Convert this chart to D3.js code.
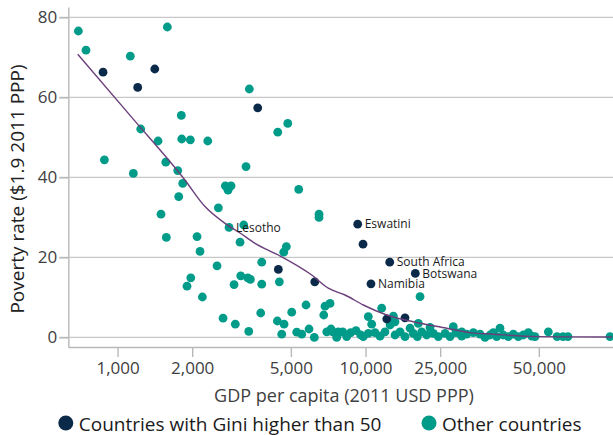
<!DOCTYPE html>
<html>
<head>
<meta charset="utf-8">
<script src="https://cdn.jsdelivr.net/npm/d3@7"></script>
<style>
  html, body { margin: 0; padding: 0; background: #fff; }
  svg { display: block; font-family: "Open Sans", sans-serif; }
</style>
</head>
<body>
<svg id="chart" width="613" height="435"></svg>
<script>
// Poverty rate vs GDP per capita — scatter on a log x axis with a smoothed trend.

// Countries with Gini higher than 50
const giniGdp = [874, 1413, 1206, 3675, 9300, 9770, 12520, 15880, 10520, 4451, 6241, 12180, 14430];
const giniPoverty = [66.3, 67.1, 62.5, 57.4, 28.3, 23.3, 18.8, 16.0, 13.4, 17.0, 13.9, 4.6, 4.9];

// Other countries
const otherGdp = [
  695, 746, 1588, 1126, 3400, 1808, 1240, 1457, 1815, 1966, 2311, 885, 1565, 1749, 1158, 3297,
  4857, 4426, 5378, 6494, 6494, 1832, 1765, 1497, 1573, 2092, 2151, 2721, 2869, 2790, 2550, 2816,
  3228, 3119, 2519, 1974, 1906, 2198, 3139, 3350, 3432, 2950, 2664, 2985, 3381, 4794, 4680, 3815,
  3815, 4492, 5755, 6867, 7193, 6785, 5040, 3779, 4410, 4693, 4593, 5280, 5530, 5918, 6216, 6976,
  7260, 7653, 7767, 16590, 11620, 10260, 10590, 12950, 13150, 12560, 16330, 18200, 22590, 34850,
  54600, 24430, 59200, 62600, 65500, 96800,
  7375, 7697, 8093, 8400, 8716, 9156, 9564, 9797, 10260, 10920, 11440, 11980, 13150, 13780, 14430,
  15120, 15580, 16180, 16850, 17650, 18770, 19660, 20930, 21920, 23170, 24430, 25590, 27210, 28950,
  30330, 31770, 32760, 33810, 35940, 37650, 39450, 41320, 43280, 45350, 46800, 48260
];
const otherPoverty = [
  76.6, 71.8, 77.6, 70.3, 62.1, 55.5, 52.1, 49.1, 49.6, 49.4, 49.1, 44.4, 43.8, 41.7, 41.0, 42.7,
  53.5, 51.3, 37.0, 30.8, 30.0, 38.5, 35.2, 30.8, 25.0, 25.2, 21.5, 37.9, 37.9, 36.8, 32.4, 27.5,
  28.1, 23.8, 17.9, 14.9, 12.8, 10.1, 15.4, 14.9, 14.5, 13.2, 4.8, 3.3, 1.5, 22.7, 21.3, 18.8,
  13.3, 13.9, 8.1, 7.8, 8.5, 5.6, 6.3, 6.1, 4.1, 3.3, 0.8, 1.3, 0.8, 2.1, 0.0, 1.4,
  2.1, 0.0, 1.4, 10.2, 7.3, 5.2, 3.3, 5.3, 3.9, 3.1, 3.5, 2.5, 2.7, 2.3,
  1.4, 1.4, 0.2, 0.2, 0.2, 0.2,
  1.4, 0.6, 1.4, 0.2, 1.2, 1.7, 0.6, 0.2, 1.0, 1.2, 0.3, 1.4, 0.6, 1.4, 0.2,
  2.3, 1.0, 0.2, 1.4, 0.6, 1.0, 0.2, 1.0, 0.2, 1.2, 0.3, 0.8, 1.2, 0.8,
  0.0, 0.6, 1.2, 0.2, 0.6, 0.2, 0.8, 0.2, 0.6, 1.2, 0.3, 0.2
];

// Smoothed trend
const trendGdp = [691, 1123, 1872, 2253, 2713, 3119, 3585, 4451, 6069, 7079, 8270, 9797, 12180, 15580, 21260, 26390, 32670, 49150, 98600];
const trendPoverty = [70.8, 55.5, 39.3, 32.7, 28.5, 26.1, 23.5, 20.6, 15.6, 12.3, 10.6, 8.1, 5.6, 3.9, 2.3, 1.2, 0.8, 0.2, 0.1];

// Labelled countries
const labelNames = ["Lesotho", "Eswatini", "South Africa", "Botswana", "Namibia"];
const labelGdp = [2816, 9300, 12520, 15880, 10520];
const labelPoverty = [27.5, 28.3, 18.8, 16.0, 13.4];

const yTickValues = [0, 20, 40, 60, 80];
const xTickValues = [1000, 2000, 5000, 10000, 20000, 50000];
const xTickLabels = ["1,000", "2,000", "5,000", "10,000", "25,000", "50,000"];

const legendLabels = ["Countries with Gini higher than 50", "Other countries"];

(() => {
  "use strict";

  const COLOR_GINI = "#0B2A4A";
  const COLOR_OTHER = "#009B89";
  const COLOR_TREND = "#6B3F7B";
  const COLOR_GRID = "#c8c8c8";
  const COLOR_AXIS = "#b8b8b8";
  const COLOR_TICK_TEXT = "#404040";
  const POINT_RADIUS = 4.4;

  const plotLeft = 68.3;
  const plotRight = 613.5;
  const plotTop = 7;
  const plotBottom = 347;

  const svg = d3.select("#chart");

  const x = d3.scaleLog().domain([633, 100000]).range([plotLeft, plotRight]);
  const y = d3.scaleLinear().domain([-2.4, 82.6]).range([plotBottom, plotTop]);

  // Horizontal gridlines
  svg.append("g")
    .selectAll("line")
    .data(yTickValues)
    .join("line")
    .attr("x1", plotLeft - 9)
    .attr("x2", 613)
    .attr("y1", (d) => y(d))
    .attr("y2", (d) => y(d))
    .attr("stroke", COLOR_GRID)
    .attr("stroke-width", 1.4);

  // Y axis
  const yAxisEl = svg.append("g")
    .attr("transform", "translate(" + plotLeft + ",0)")
    .call(d3.axisLeft(y).tickValues(yTickValues).tickSize(9).tickSizeOuter(0).tickPadding(2));

  // X axis (tick labels kept as printed in the source)
  const xAxisEl = svg.append("g")
    .attr("transform", "translate(0," + plotBottom + ")")
    .call(d3.axisBottom(x)
      .tickValues(xTickValues)
      .tickFormat((d, i) => xTickLabels[i])
      .tickSize(10)
      .tickSizeOuter(0)
      .tickPadding(5));

  [yAxisEl, xAxisEl].forEach((g) => {
    g.select(".domain").attr("stroke", COLOR_AXIS).attr("stroke-width", 1.4);
    g.selectAll(".tick line").attr("stroke", COLOR_AXIS).attr("stroke-width", 1.4);
    g.selectAll(".tick text")
      .attr("fill", COLOR_TICK_TEXT)
      .attr("font-size", "17px")
      .attr("font-family", "Open Sans, sans-serif");
  });

  // Points: other countries, then high-Gini countries on top
  const otherData = otherGdp.map((g, i) => ({ gdp: g, poverty: otherPoverty[i] }));
  const giniData = giniGdp.map((g, i) => ({ gdp: g, poverty: giniPoverty[i] }));

  svg.append("g")
    .selectAll("circle")
    .data(otherData)
    .join("circle")
    .attr("cx", (d) => x(d.gdp))
    .attr("cy", (d) => y(d.poverty))
    .attr("r", POINT_RADIUS)
    .attr("fill", COLOR_OTHER);

  svg.append("g")
    .selectAll("circle")
    .data(giniData)
    .join("circle")
    .attr("cx", (d) => x(d.gdp))
    .attr("cy", (d) => y(d.poverty))
    .attr("r", POINT_RADIUS)
    .attr("fill", COLOR_GINI);

  // Trend line
  const trendData = trendGdp.map((g, i) => [g, trendPoverty[i]]);
  const line = d3.line()
    .x((d) => x(d[0]))
    .y((d) => y(d[1]))
    .curve(d3.curveMonotoneX);

  svg.append("path")
    .attr("d", line(trendData))
    .attr("fill", "none")
    .attr("stroke", COLOR_TREND)
    .attr("stroke-width", 1.4);

  // Country labels
  svg.append("g")
    .selectAll("text")
    .data(labelNames)
    .join("text")
    .attr("x", (d, i) => x(labelGdp[i]) + 7)
    .attr("y", (d, i) => y(labelPoverty[i]))
    .attr("dy", "0.35em")
    .attr("font-size", "12px")
    .attr("fill", "#1a1a1a")
    .text((d) => d);

  // Axis titles
  svg.append("text")
    .attr("x", 344)
    .attr("y", 401.5)
    .attr("text-anchor", "middle")
    .attr("font-size", "18px")
    .attr("fill", COLOR_TICK_TEXT)
    .text("GDP per capita (2011 USD PPP)");

  svg.append("text")
    .attr("transform", "translate(24,189) rotate(-90)")
    .attr("text-anchor", "middle")
    .attr("font-size", "19px")
    .attr("fill", "#222")
    .text("Poverty rate ($1.9 2011 PPP)");

  // Legend
  const legendX = [65.8, 429];
  const legendColors = [COLOR_GINI, COLOR_OTHER];
  const legendEl = svg.append("g")
    .selectAll("g")
    .data(legendLabels)
    .join("g")
    .attr("transform", (d, i) => "translate(" + legendX[i] + ",423)");

  legendEl.append("circle")
    .attr("r", 7.5)
    .attr("fill", (d, i) => legendColors[i]);

  legendEl.append("text")
    .attr("x", 13)
    .attr("y", 8.2)
    .attr("font-size", "19px")
    .attr("fill", "#1a1a1a")
    .text((d) => d);
})();
</script>
</body>
</html>
